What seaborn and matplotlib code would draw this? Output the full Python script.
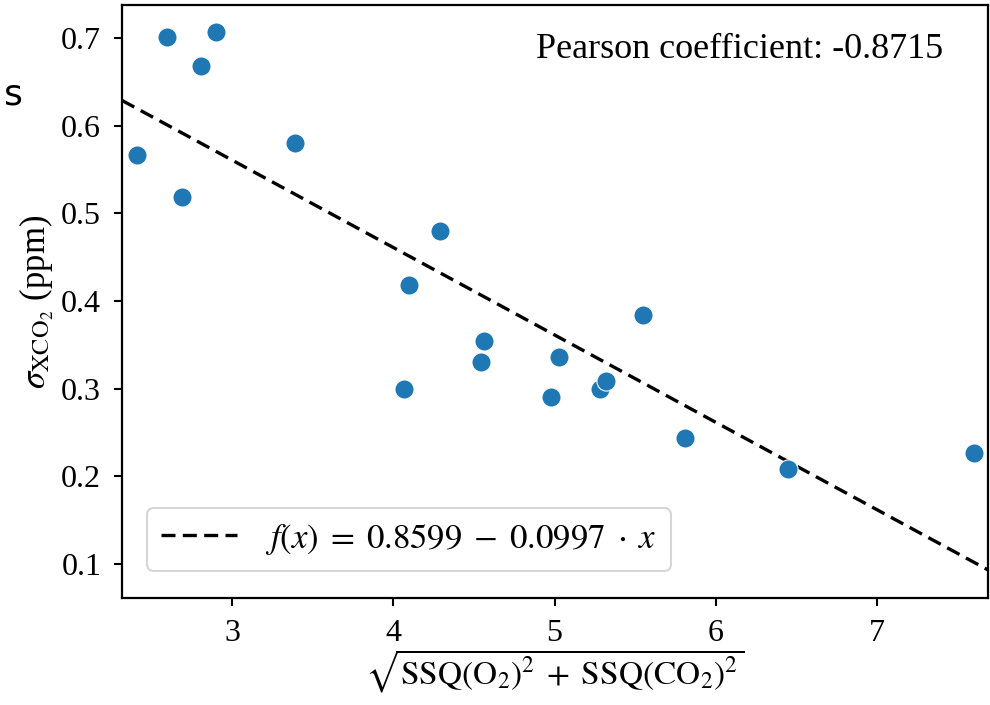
import numpy as np
import pandas as pd
import matplotlib
matplotlib.use("Agg")
import matplotlib.pyplot as plt
import seaborn as sns

# data
ssq = [2.411, 2.597, 2.690, 2.808, 2.901, 3.391, 4.068, 4.097, 4.290, 4.544,
       4.562, 4.978, 5.027, 5.281, 5.319, 5.548, 5.808, 6.447, 7.600]
sigma = [0.5666, 0.701, 0.519, 0.668, 0.707, 0.580, 0.300, 0.418, 0.480, 0.3306,
         0.3545, 0.2906, 0.3363, 0.300, 0.309, 0.384, 0.244, 0.2086, 0.2268]
intercept = 0.8599
slope = -0.0997
pearson = -0.8715
x_ticks = [3, 4, 5, 6, 7]
y_ticks = [0.1, 0.2, 0.3, 0.4, 0.5, 0.6, 0.7]

sns.set_theme(style="ticks")
plt.rcParams['font.family'] = ['Liberation Serif', 'DejaVu Serif']
plt.rcParams['mathtext.fontset'] = 'stix'
plt.rcParams['text.color'] = 'black'
plt.rcParams['axes.labelcolor'] = 'black'
plt.rcParams['xtick.color'] = 'black'
plt.rcParams['ytick.color'] = 'black'

fig = plt.figure(figsize=(9.9, 7.05), dpi=100)
ax = fig.add_axes([0.1232, 0.1518, 0.998 - 0.1232, 0.9929 - 0.1518])

df = pd.DataFrame({"x": ssq, "y": sigma})
sns.scatterplot(data=df, x="x", y="y", ax=ax, s=190, color="#1f77b4",
                edgecolor="white", linewidth=0.8, zorder=3)

xlim = (2.318, 7.688)
xs = np.array(xlim)
ax.plot(xs, intercept + slope * xs, ls=(0, (4.2, 2.2)), color="black", lw=2.4,
        label=r"$f(x)\;=\;0.8599\;-\;0.0997\;\cdot\;x$", zorder=2)

ax.set_xlim(*xlim)
ax.set_ylim(0.0614, 0.7376)
ax.set_xticks(x_ticks)
ax.set_yticks(y_ticks)
ax.set_xticklabels([str(t) for t in x_ticks])
ax.set_yticklabels([f"{t:.1f}" for t in y_ticks])
ax.tick_params(labelsize=23, width=1.5, length=6, color="black", pad=9)

for sp in ax.spines.values():
    sp.set_linewidth(1.6)
    sp.set_color("black")

ax.set_xlabel(r"$\sqrt{\mathrm{SSQ}(\mathrm{O}_2)^2 \;+\; \mathrm{SSQ}(\mathrm{CO}_2)^2}$",
              fontsize=24, labelpad=0)
ax.set_ylabel(r"$\sigma_{\mathrm{XCO}_2}$ (ppm)", fontsize=25, labelpad=4)

ax.text(0.948, 0.925, f"Pearson coefficient: {pearson}", transform=ax.transAxes,
        ha="right", va="center", fontsize=26)

leg = ax.legend(loc="lower left", fontsize=25, frameon=True, handlelength=2.2,
                borderpad=0.4, handletextpad=0.8, bbox_to_anchor=(0.009, 0.017))
leg.get_frame().set_edgecolor("#cccccc")
leg.get_frame().set_linewidth(1.5)

fig.text(0.004, 0.866, "s", fontsize=26, family="DejaVu Sans", ha="left", va="center")

fig.savefig("out.png", dpi=100)
